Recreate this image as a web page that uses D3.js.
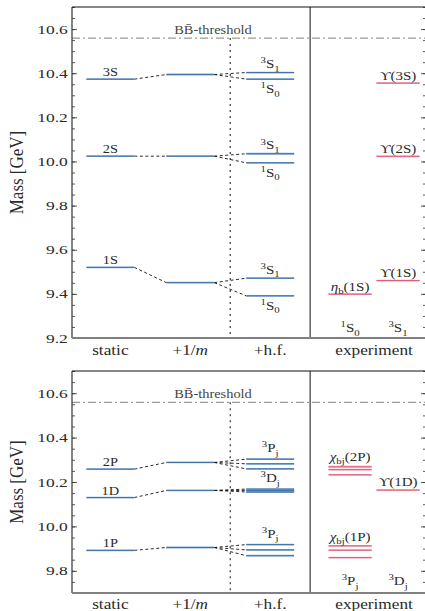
<!DOCTYPE html>
<html>
<head>
<meta charset="utf-8">
<script src="https://cdn.jsdelivr.net/npm/d3@7"></script>
<style>
  body { margin: 0; background: #fff; }
  svg { display: block; }
  text { font-family: "Liberation Serif", serif; fill: #2a2a2a; }
</style>
</head>
<body>
<svg id="chart" width="425" height="611"></svg>
<script>
// ---- data ----
const columns = ["static", "+1/m", "+h.f.", "experiment"];
const threshold = 10.559;

// S-wave panel
const sStates = ["1S", "2S", "3S"];
const sStatic = [9.520, 10.024, 10.373];
const sOneOverM = [9.451, 10.024, 10.394];
const sTriplet = [9.471, 10.035, 10.403];
const sSinglet = [9.391, 9.994, 10.373];
const upsilonStates = ["1S", "2S", "3S"];
const upsilonMass = [9.4603, 10.0233, 10.3552];
const etaBStates = ["1S"];
const etaBMass = [9.3987];
const sTicks = [9.2, 9.4, 9.6, 9.8, 10.0, 10.2, 10.4, 10.6];

// P/D-wave panel
const pdStates = ["1P", "1D", "2P"];
const pdStatic = [9.892, 10.130, 10.258];
const pdOneOverM = [9.905, 10.162, 10.288];
const pdWaves = ["P", "D", "P"];
const pdHf = [[9.918, 9.894, 9.868], [10.168, 10.162, 10.155], [10.303, 10.282, 10.259]];
const chiB1P = [9.9122, 9.8928, 9.8594];
const chiB2P = [10.2686, 10.2555, 10.2325];
const upsilon1D = [10.1637];
const pdTicks = [9.8, 10.0, 10.2, 10.4, 10.6];

// ---- setup ----
const svg = d3.select("#chart");
const x = d3.scaleLinear().domain([-0.48, 3.95]).range([72, 426]);
const colPos = d3.scaleOrdinal().domain(columns).range([0, 1, 2, 3.3]);
const expPos = [3.0, 3.6];
const hw = 0.3, ehw = 0.27;
const blue = ["#80acd8", "#1f4e85"];
const red = ["#f2a8b8", "#d42f4f"];
const serif = "Liberation Serif";

// text with super/subscripts, stretched a bit horizontally like the original
function richText(g, px, py, parts, size, sx, anchor) {
  const t = g.append("text")
    .attr("transform", `translate(${px},${py}) scale(${sx},1)`)
    .attr("text-anchor", anchor || "middle")
    .attr("font-family", serif)
    .style("font-size", size + "px");
  let shift = 0;
  parts.forEach(([s, k]) => {
    const target = k === "sup" ? -0.38 * size : k === "sub" ? 0.28 * size : 0;
    const ts = t.append("tspan").text(s).attr("dy", target - shift);
    shift = target;
    if (k === "sup" || k === "sub") ts.style("font-size", (size * 0.72) + "px");
    if (k === "it") ts.style("font-style", "italic");
  });
  return t;
}

function frame(top, bottom, dom, ticks, catBaseline) {
  const y = d3.scaleLinear().domain(dom).range([bottom, top]);
  const g = svg.append("g");
  const minor = d3.range(Math.round(dom[0] * 20), Math.round(dom[1] * 20) + 1).map(d => d / 20);
  const xl = x.range()[0], xr = x.range()[1];

  // ticks left and right
  const axes = [
    [d3.axisLeft(y).tickValues(minor).tickSize(-3).tickFormat(""), xl],
    [d3.axisLeft(y).tickValues(ticks).tickSize(-5).tickPadding(3).tickFormat(d3.format(".1f")), xl],
    [d3.axisRight(y).tickValues(minor).tickSize(-3).tickFormat(""), xr],
    [d3.axisRight(y).tickValues(ticks).tickSize(-5).tickFormat(""), xr]
  ];
  axes.forEach(([ax, pos]) => {
    const a = g.append("g").attr("transform", `translate(${pos},0)`).call(ax)
      .attr("font-family", serif).attr("font-size", null);
    a.select(".domain").remove();
    a.selectAll(".tick line").attr("stroke", "#333").attr("stroke-width", 0.8);
    a.selectAll(".tick text").attr("transform", "scale(1.4,1)").style("font-size", "12.5px").attr("fill", "#2a2a2a");
  });

  // threshold
  g.append("line").attr("x1", xl).attr("x2", xr).attr("y1", y(threshold)).attr("y2", y(threshold))
    .attr("stroke", "#808080").attr("stroke-width", 1).attr("stroke-dasharray", "8,3,2,3");
  richText(g, 213, y(threshold) - 4, [["BB\u0304-threshold", ""]], 12, 1.2).style("fill", "#444");

  // column separators
  g.append("line").attr("x1", x(1.5)).attr("x2", x(1.5)).attr("y1", y(threshold)).attr("y2", bottom)
    .attr("stroke", "#222").attr("stroke-width", 1.1).attr("stroke-dasharray", "2,4");
  g.append("line").attr("x1", x(2.5)).attr("x2", x(2.5)).attr("y1", top).attr("y2", bottom)
    .attr("stroke", "#111").attr("stroke-width", 1);

  // frame
  g.append("line").attr("x1", xl).attr("x2", xr).attr("y1", top).attr("y2", top).attr("stroke", "#111");
  g.append("line").attr("x1", xl).attr("x2", xl).attr("y1", top).attr("y2", bottom).attr("stroke", "#333").attr("stroke-width", 1.2);
  g.append("line").attr("x1", xl).attr("x2", xr).attr("y1", bottom).attr("y2", bottom).attr("stroke", "#808080").attr("stroke-width", 2);

  // category labels
  const catParts = { "static": [["static", ""]], "+1/m": [["+1/", ""], ["m", "it"]], "+h.f.": [["+h.f.", ""]], "experiment": [["experiment", ""]] };
  columns.forEach(c => richText(g, x(colPos(c)), catBaseline, catParts[c], 15, 1.15));

  // y label
  g.append("text")
    .attr("transform", `translate(23,${(top + bottom) / 2}) scale(1.15,1) rotate(-90)`)
    .attr("font-family", serif)
    .attr("text-anchor", "middle").style("font-size", "17px").text("Mass [GeV]");
  return { g, y };
}

function levels(g, y, xc, half, masses, pal) {
  const sel = g.append("g");
  sel.selectAll("line.band").data(masses).join("line").attr("class", "band")
    .attr("x1", x(xc - half)).attr("x2", x(xc + half)).attr("y1", d => y(d)).attr("y2", d => y(d))
    .attr("stroke", pal[0]).attr("stroke-width", 1.8);
  sel.selectAll("line.core").data(masses).join("line").attr("class", "core")
    .attr("x1", x(xc - half)).attr("x2", x(xc + half)).attr("y1", d => y(d)).attr("y2", d => y(d))
    .attr("stroke", pal[1]).attr("stroke-width", 0.8).attr("opacity", 0.8);
}

function connect(g, y, xa, ma, xb, mb) {
  g.append("line").attr("x1", x(xa)).attr("x2", x(xb)).attr("y1", y(ma)).attr("y2", y(mb))
    .attr("stroke", "#111").attr("stroke-width", 0.9).attr("stroke-dasharray", "3,2.5");
}

// ---- S-wave panel ----
{
  const { g, y } = frame(7, 338, [9.2, 10.7], sTicks, 355);
  const c0 = colPos("static"), c1 = colPos("+1/m"), c2 = colPos("+h.f.");
  sStates.forEach((s, i) => {
    connect(g, y, c0 + hw, sStatic[i], c1 - hw, sOneOverM[i]);
    connect(g, y, c1 + hw, sOneOverM[i], c2 - hw, sTriplet[i]);
    connect(g, y, c1 + hw, sOneOverM[i], c2 - hw, sSinglet[i]);
    richText(g, x(c0), y(sStatic[i]) - 3, [[s, ""]], 12, 1.2);
    richText(g, x(c2), y(sTriplet[i]) - 4.5, [["3", "sup"], ["S", ""], ["1", "sub"]], 12.5, 1.2);
    richText(g, x(c2), y(sSinglet[i]) + 14, [["1", "sup"], ["S", ""], ["0", "sub"]], 12.5, 1.2);
  });
  levels(g, y, c0, hw, sStatic, blue);
  levels(g, y, c1, hw, sOneOverM, blue);
  levels(g, y, c2, hw, sTriplet, blue);
  levels(g, y, c2, hw, sSinglet, blue);
  levels(g, y, expPos[1], ehw, upsilonMass, red);
  levels(g, y, expPos[0], ehw, etaBMass, red);
  upsilonStates.forEach((s, i) =>
    richText(g, x(expPos[1]), y(upsilonMass[i]) - 3.5, [["\u03D2(" + s + ")", ""]], 12.5, 1.2));
  etaBStates.forEach((s, i) =>
    richText(g, x(expPos[0]), y(etaBMass[i]) - 3.5, [["\u03B7", "it"], ["b", "sub"], ["(" + s + ")", ""]], 12.5, 1.2));
  richText(g, x(expPos[0]), 332, [["1", "sup"], ["S", ""], ["0", "sub"]], 12.5, 1.2);
  richText(g, x(expPos[1]), 332, [["3", "sup"], ["S", ""], ["1", "sub"]], 12.5, 1.2);
}

// ---- P/D-wave panel ----
{
  const { g, y } = frame(371, 593, [9.7, 10.7], pdTicks, 609);
  const c0 = colPos("static"), c1 = colPos("+1/m"), c2 = colPos("+h.f.");
  pdStates.forEach((s, i) => {
    connect(g, y, c0 + hw, pdStatic[i], c1 - hw, pdOneOverM[i]);
    pdHf[i].forEach(m => connect(g, y, c1 + hw, pdOneOverM[i], c2 - hw, m));
    richText(g, x(c0), y(pdStatic[i]) - 3, [[s, ""]], 12, 1.2);
    richText(g, x(c2), y(d3.max(pdHf[i])) - 7, [["3", "sup"], [pdWaves[i], ""], ["j", "sub"]], 12.5, 1.2);
    levels(g, y, c2, hw, pdHf[i], blue);
  });
  levels(g, y, c0, hw, pdStatic, blue);
  levels(g, y, c1, hw, pdOneOverM, blue);
  levels(g, y, expPos[0], ehw, chiB1P, red);
  levels(g, y, expPos[0], ehw, chiB2P, red);
  levels(g, y, expPos[1], ehw, upsilon1D, red);
  richText(g, x(expPos[0]), y(d3.max(chiB2P)) - 6, [["\u03C7", "it"], ["bj", "sub"], ["(2P)", ""]], 12.5, 1.2);
  richText(g, x(expPos[0]), y(d3.max(chiB1P)) - 5, [["\u03C7", "it"], ["bj", "sub"], ["(1P)", ""]], 12.5, 1.2);
  richText(g, x(expPos[1]), y(upsilon1D[0]) - 4, [["\u03D2(1D)", ""]], 12.5, 1.2);
  richText(g, x(expPos[0]), 585, [["3", "sup"], ["P", ""], ["j", "sub"]], 12.5, 1.2);
  richText(g, x(expPos[1]), 585, [["3", "sup"], ["D", ""], ["j", "sub"]], 12.5, 1.2);
}
</script>
</body>
</html>
